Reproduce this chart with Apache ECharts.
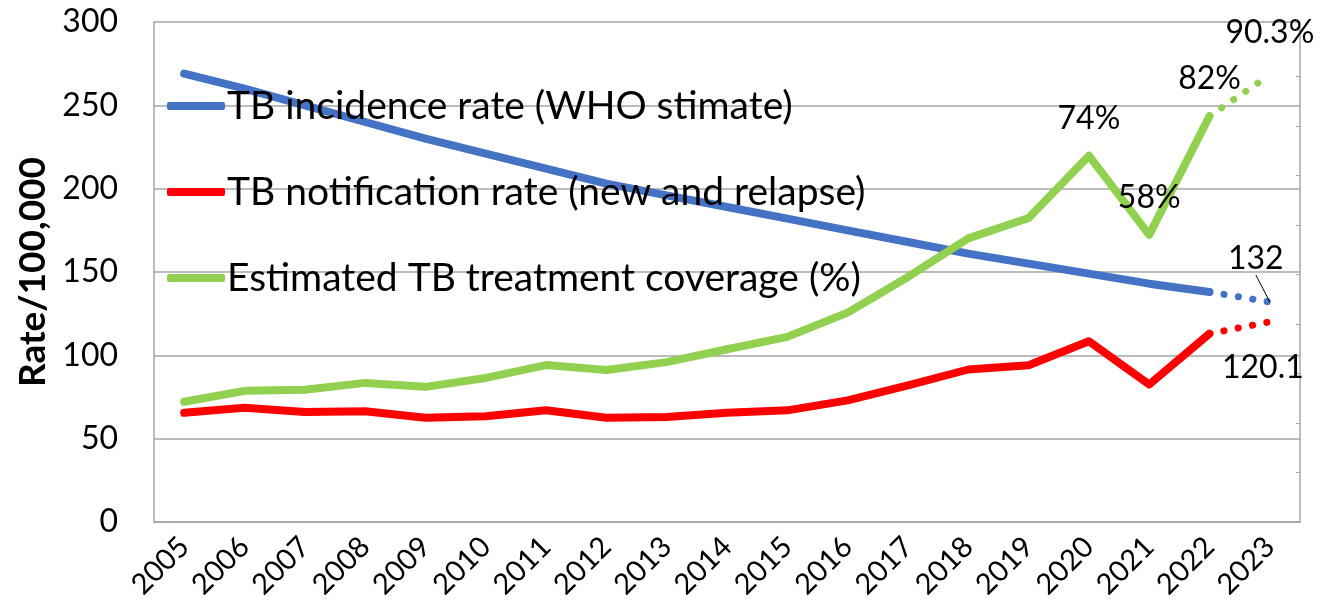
<!DOCTYPE html>
<html>
<head>
<meta charset="utf-8">
<script src="https://cdn.jsdelivr.net/npm/echarts@6/dist/echarts.min.js"></script>
<style>
  html, body { margin: 0; padding: 0; background: #fff; }
  #chart { width: 1337px; height: 612px; }
</style>
</head>
<body>
<div id="chart"></div>
<script>
const years = ['2005', '2006', '2007', '2008', '2009', '2010', '2011', '2012', '2013', '2014',
  '2015', '2016', '2017', '2018', '2019', '2020', '2021', '2022', '2023'];
// rate per 100,000 (left axis)
const incidence = [269, 260, 250, 240, 230, 221, 212, 203, 196, 189, 182, 175, 168, 161, 155, 149, 143, 138, 132];
const notification = [65.5, 68.5, 66, 66.5, 62.5, 63.5, 67, 62.5, 63, 65.5, 67, 73, 82, 91.5, 94, 108.5, 82.5, 113, 120.1];
// treatment coverage in % (right axis)
const coverage = [24.3, 26.5, 26.7, 28.1, 27.3, 29.1, 31.7, 30.7, 32.3, 34.9, 37.4, 42.3, 49.5, 57.3, 61.4, 74, 58, 82, 90.3];
const coverageLabelYears = ['2020', '2021', '2022', '2023'];
const projectionFrom = '2022';   // last year drawn solid, dotted after it

const FONT = 'Lato';
const chart = echarts.init(document.getElementById('chart'));
const startIdx = years.indexOf(projectionFrom);

function solidPart(arr) {
  return arr.map((v, i) => i <= startIdx ? v : null);
}
function dottedPart(arr) {
  return arr.map((v, i) => i >= startIdx ? v : null);
}
function labelled(v, lab) {
  return { value: v, symbol: 'circle', symbolSize: 0.1, label: Object.assign({ show: true }, lab) };
}

const labelStyle = { color: '#000', fontFamily: FONT, fontSize: 32 };

const covSolid = solidPart(coverage).map((v, i) =>
  v != null && coverageLabelYears.includes(years[i]) ? labelled(v, { position: 'top', distance: 21, formatter: '{c}%' }) : v);
const covDotted = dottedPart(coverage).map((v, i) =>
  i === years.length - 1 ? labelled(v, { position: 'top', distance: 26, formatter: '{c}%' }) : v);
const incDotted = dottedPart(incidence).map((v, i) =>
  i === years.length - 1 ? labelled(v, { position: 'top', distance: 5 }) : v);
const notDotted = dottedPart(notification).map((v, i) =>
  i === years.length - 1 ? labelled(v, { position: 'bottom', distance: 30, offset: [-7, 0] }) : v);

function solidSeries(name, data, color, yIdx) {
  return {
    name: name, type: 'line', yAxisIndex: yIdx, data: data,
    symbol: 'none', connectNulls: false, z: 3,
    lineStyle: { color: color, width: 8, cap: 'round', join: 'round' },
    itemStyle: { color: color },
    label: labelStyle
  };
}
function dottedSeries(name, data, color, yIdx) {
  return {
    name: name, type: 'line', yAxisIndex: yIdx, data: data,
    symbol: 'none', z: 3,
    lineStyle: { color: color, width: 7, type: [0.1, 14.5], cap: 'round' },
    itemStyle: { color: color },
    label: labelStyle
  };
}

const incName = 'TB incidence rate (WHO stimate)';
const notName = 'TB notification rate (new and relapse)';
const covName = 'Estimated TB treatment coverage (%)';

const incDottedSeries = dottedSeries('inc-proj', incDotted, '#4472C4', 0);
incDottedSeries.labelLayout = { dx: -14, dy: -22 };
incDottedSeries.labelLine = { show: true, lineStyle: { color: '#000', width: 1 } };

chart.setOption({
  animation: false,
  backgroundColor: '#fff',
  textStyle: { fontFamily: FONT },
  grid: { left: 154, right: 37, top: 22, bottom: 90 },
  legend: {
    orient: 'vertical', left: 162, top: 81,
    itemWidth: 58, itemHeight: 8, itemGap: 46,
    icon: 'roundRect',
    data: [incName, notName, covName],
    textStyle: { color: '#000', fontFamily: FONT, fontSize: 39, lineHeight: 40, padding: [0, 0, 0, -3] }
  },
  xAxis: {
    type: 'category', data: years, boundaryGap: true,
    axisLine: { lineStyle: { color: '#A6A6A6', width: 1.5 } },
    axisTick: { show: false },
    axisLabel: { rotate: 45, color: '#000', fontFamily: FONT, fontSize: 29, margin: 20, interval: 0 }
  },
  yAxis: [{
    type: 'value', min: 0, max: 300, interval: 50,
    name: 'Rate/100,000', nameLocation: 'middle', nameGap: 100, nameRotate: 90,
    nameTextStyle: { color: '#000', fontFamily: FONT, fontSize: 37, fontWeight: 'bold' },
    axisLine: { show: true, lineStyle: { color: '#A6A6A6', width: 1.5 } },
    axisTick: { show: false },
    axisLabel: { color: '#000', fontFamily: FONT, fontSize: 32, margin: 36 },
    splitLine: { lineStyle: { color: '#A6A6A6', width: 1.5 } }
  }, {
    type: 'value', min: 0, max: 101, interval: 10, position: 'right',
    axisLine: { show: true, lineStyle: { color: '#A6A6A6', width: 1.5 } },
    axisTick: { show: true, inside: true, length: 4, lineStyle: { color: '#A6A6A6' } },
    axisLabel: { show: false },
    splitLine: { show: false }
  }],
  series: [
    solidSeries(incName, solidPart(incidence), '#4472C4', 0),
    solidSeries(notName, solidPart(notification), '#FF0000', 0),
    solidSeries(covName, covSolid, '#92D050', 1),
    incDottedSeries,
    dottedSeries('not-proj', notDotted, '#FF0000', 0),
    dottedSeries('cov-proj', covDotted, '#92D050', 1)
  ]
});
</script>
</body>
</html>
